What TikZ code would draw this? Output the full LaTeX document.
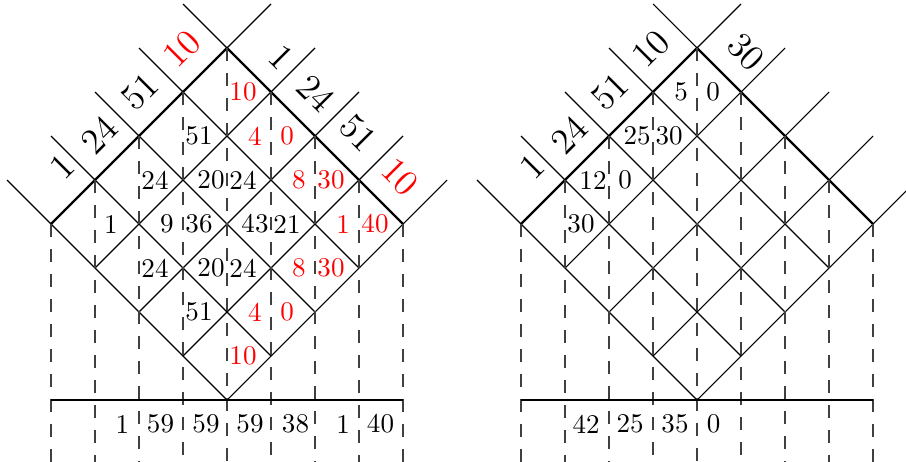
\documentclass[tikz,border=0pt]{standalone}
\begin{document}
\begin{tikzpicture}[x=0.37pt,y=-0.37pt,
  gridline/.style={line width=0.4pt},
  edgeline/.style={line width=0.8pt},
  vdash/.style={line width=0.4pt, black!75, dash pattern=on 4.8pt off 4.45pt},
  cellnum/.style={inner sep=0pt},
  sumnum/.style={inner sep=0pt},
  factor/.style={inner sep=0pt, font=\fontsize{13.5}{16}\selectfont}]
\clip (0,0) rectangle (906,461);
% grids
\foreach \X in {0,470} {
  \begin{scope}[shift={(227+\X,48)}, x={(16.28pt,-16.28pt)}, y={(-16.28pt,-16.28pt)}]
    \foreach \i in {0,...,4} {
      \draw[gridline] (-1,\i) -- (4,\i);
      \draw[gridline] (\i,-1) -- (\i,4);
    }
    \draw[edgeline] (0,4) -- (0,0) -- (4,0);
  \end{scope}
  \foreach \m in {-4,...,4} {
    \pgfmathsetmacro\xx{227+\X+44*\m}
    \pgfmathsetmacro\yy{48+44*abs(\m)}
    \draw[vdash] (\xx,\yy) -- (\xx,470);
  }
  \draw[edgeline] (51+\X,400) -- (403+\X,400);
}
% cell entries
\foreach \n/\px/\py/\t/\c in {
  a1/243/92/10/red, a2/255/136/4/red, a3/287/136/0/red,
  a4/299/180/8/red, a5/331/180/30/red, a6/343/224/1/red, a7/375/224/40/red,
  a8/199/136/51/black, a9/211/180/20/black, a10/243/180/24/black,
  a11/255/224/43/black, a12/287/224/21/black, a13/299/268/8/red, a14/331/268/30/red,
  a15/155/180/24/black, a16/167/224/9/black, a17/199/224/36/black,
  a18/211/268/20/black, a19/243/268/24/black, a20/255/312/4/red, a21/287/312/0/red,
  a22/111/224/1/black, a23/155/268/24/black, a24/199/312/51/black, a25/243/356/10/red,
  b1/681/92/5/black, b2/713/92/0/black, b3/637/136/25/black, b4/669/136/30/black,
  b5/593/180/12/black, b6/625/180/0/black, b7/581/224/30/black} {
  \node[cellnum, text=\c] (\n) at (\px,\py) {\t};
}
% factors
\foreach \n/\px/\py/\t/\c/\r in {
  fl1/62/167/1/black/45, fl2/99/135/24/black/45, fl3/140/92/51/black/45, fl4/182/49/10/red/45,
  fr1/281/57/1/black/-45, fr2/316/93/24/black/-45, fr3/358/133/51/black/-45, fr4/400/177/10/red/-45,
  gl1/532/167/1/black/45, gl2/569/135/24/black/45, gl3/610/92/51/black/45, gl4/651/49/10/black/45,
  gr1/746/52/30/black/-45} {
  \node[factor, text=\c, rotate=\r] (\n) at (\px,\py) {\t};
}
% sums
\foreach \n/\px/\t in {
  s1/122.5/1, s2/160.5/59, s3/206/59, s4/250/59, s5/295.5/38, s6/343/1, s7/380.5/40,
  t1/586/42, t2/630/25, t3/675/35, t4/713.5/0} {
  \node[sumnum] (\n) at (\px,424) {\t};
}
\end{tikzpicture}
\end{document}
